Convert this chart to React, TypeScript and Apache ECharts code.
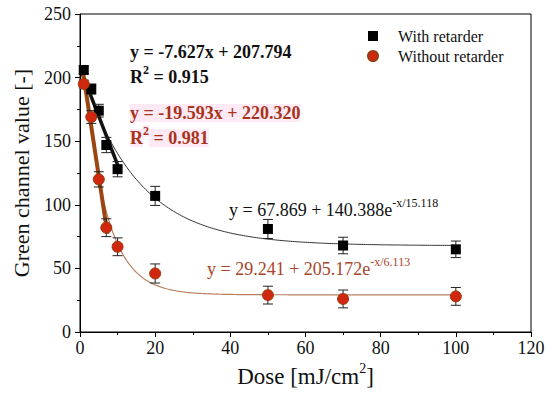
import React, { useEffect, useRef } from "react";
import * as echarts from "echarts";

const doses = [1, 3, 5, 7, 10, 20, 50, 70, 100];
const withRetarder = [206, 191, 174, 147, 128, 107, 81, 68, 65];
const withRetarderErr = [3, 4, 5, 6, 6, 7.5, 7.5, 6.5, 6.5];
const withoutRetarder = [195, 169, 120, 82, 67, 46, 29, 26, 28];
const withoutRetarderErr = [3, 5, 6, 7, 7, 7.5, 7, 7, 7];

const xTicks = { min: 0, max: 120, interval: 20 };
const yTicks = { min: 0, max: 250, interval: 50 };

// Fits as printed on the chart
const linWith = { slope: -7.627, intercept: 207.794, from: 0.5, to: 10.5 };
const linWithout = { slope: -19.593, intercept: 220.32, from: 0.8, to: 7.3 };
const expWith = { a: 67.869, b: 140.388, t: 15.118, from: 3, to: 100 };
const expWithout = { a: 29.241, b: 205.172, t: 6.113, from: 5, to: 100 };

const FONT = "Liberation Serif, Times New Roman, serif";
const RED_TEXT = "#a8321a";
const PINK = "#fdeaf5";

function expCurve(f: { a: number; b: number; t: number; from: number; to: number }) {
  const pts: number[][] = [];
  for (let x = f.from; x <= f.to + 1e-9; x += 0.5) {
    pts.push([x, f.a + f.b * Math.exp(-x / f.t)]);
  }
  return pts;
}
function linCurve(f: { slope: number; intercept: number; from: number; to: number }) {
  return [
    [f.from, f.intercept + f.slope * f.from],
    [f.to, f.intercept + f.slope * f.to],
  ];
}

function richText(color: string, bold: boolean, size: number, bg?: string) {
  const m: any = {
    fontFamily: FONT,
    fontSize: size,
    fontWeight: bold ? "bold" : "normal",
    color,
    lineHeight: 22,
    verticalAlign: "bottom",
  };
  const s: any = {
    fontFamily: FONT,
    fontSize: Math.round(size * 0.65),
    fontWeight: bold ? "bold" : "normal",
    color,
    lineHeight: 12,
    verticalAlign: "top",
  };
  if (bg) {
    m.backgroundColor = bg;
    s.backgroundColor = bg;
  }
  return { m, s };
}

function eqText(x: number, y: number, text: string, color: string, bold: boolean, size: number, bg?: string) {
  return {
    type: "text",
    x,
    y,
    z: 10,
    style: {
      text,
      rich: richText(color, bold, size, bg),
      align: "left",
      verticalAlign: "middle",
      textAlign: "left",
      textVerticalAlign: "middle",
      fill: color,
    },
  };
}

function errorSeries(name: string, vals: number[], errs: number[]) {
  return {
    type: "custom",
    name,
    z: 3,
    silent: true,
    data: doses.map((d, i) => [d, vals[i], errs[i]]),
    encode: { x: 0, y: 1 },
    renderItem: (_p: any, api: any) => {
      const x = api.value(0);
      const y = api.value(1);
      const e = api.value(2);
      const top = api.coord([x, y + e]);
      const bot = api.coord([x, y - e]);
      const w = 5;
      const st = { stroke: "#222", lineWidth: 1 };
      return {
        type: "group",
        children: [
          { type: "line", shape: { x1: top[0], y1: top[1], x2: bot[0], y2: bot[1] }, style: st },
          { type: "line", shape: { x1: top[0] - w, y1: top[1], x2: top[0] + w, y2: top[1] }, style: st },
          { type: "line", shape: { x1: bot[0] - w, y1: bot[1], x2: bot[0] + w, y2: bot[1] }, style: st },
        ],
      };
    },
  };
}

export default function App() {
  const ref = useRef<HTMLDivElement>(null);
  useEffect(() => {
    if (!ref.current) return;
    const chart = echarts.init(ref.current, null, { renderer: "svg" });
    const axisCommon = {
      axisLine: { show: true, onZero: false, lineStyle: { color: "#000", width: 1 } },
      axisTick: { show: true, inside: false, length: 5, lineStyle: { color: "#000" } },
      minorTick: { show: true, splitNumber: 2, length: 3, lineStyle: { color: "#000" } },
      splitLine: { show: false },
      minorSplitLine: { show: false },
    };
    chart.setOption({
      animation: false,
      backgroundColor: "#fff",
      textStyle: { fontFamily: FONT },
      grid: { left: 80, right: 19, top: 14, bottom: 62, show: true, borderColor: "#000", borderWidth: 1 },
      legend: {
        orient: "vertical",
        left: 367,
        top: 28,
        padding: 0,
        itemWidth: 10,
        itemHeight: 10,
        itemGap: 4,
        data: ["With retarder", "Without retarder"],
        textStyle: { fontFamily: FONT, fontSize: 16, color: "#111", lineHeight: 16, padding: [0, 0, 0, 15] },
      },
      xAxis: {
        type: "value",
        min: xTicks.min,
        max: xTicks.max,
        interval: xTicks.interval,
        ...axisCommon,
        axisLabel: { fontFamily: FONT, fontSize: 18, color: "#111", margin: 7 },
        name: "{a|Dose [mJ/cm}{s|2}{a|]}",
        nameLocation: "middle",
        nameGap: 24,
        nameTextStyle: {
          fontFamily: FONT,
          rich: {
            a: { fontFamily: FONT, fontSize: 23, color: "#111", lineHeight: 26, verticalAlign: "bottom" },
            s: { fontFamily: FONT, fontSize: 14, color: "#111", lineHeight: 14, verticalAlign: "top" },
          },
        },
      },
      yAxis: {
        type: "value",
        min: yTicks.min,
        max: yTicks.max,
        interval: yTicks.interval,
        ...axisCommon,
        axisLabel: { fontFamily: FONT, fontSize: 18, color: "#111", margin: 9 },
        name: "Green channel value [-]",
        nameLocation: "middle",
        nameGap: 48,
        nameTextStyle: { fontFamily: FONT, fontSize: 22, color: "#111" },
      },
      graphic: [
        eqText(130, 50, "{m|y = -7.627x + 207.794}", "#111", true, 18),
        eqText(130, 75, "{m|R}{s|2}{m| = 0.915}", "#111", true, 18),
        eqText(130, 111, "{m|y = -19.593x + 220.320}", RED_TEXT, true, 18, PINK),
        eqText(130, 136, "{m|R}{s|2}{m| = 0.981}", RED_TEXT, true, 18, PINK),
        eqText(229, 208, "{m|y = 67.869 + 140.388e}{s|-x/15.118}", "#111", false, 18),
        eqText(207, 267, "{m|y = 29.241 + 205.172e}{s|-x/6.113}", "#a8452a", false, 18),
      ],
      series: [
        {
          type: "line",
          name: "expWith",
          data: expCurve(expWith),
          showSymbol: false,
          z: 1,
          lineStyle: { color: "#333", width: 1 },
          silent: true,
        },
        {
          type: "line",
          name: "expWithout",
          data: expCurve(expWithout),
          showSymbol: false,
          z: 1,
          lineStyle: { color: "#b88060", width: 1.2 },
          silent: true,
        },
        {
          type: "line",
          name: "linWith",
          data: linCurve(linWith),
          showSymbol: false,
          z: 2,
          lineStyle: { color: "#111", width: 3.5 },
          silent: true,
        },
        {
          type: "line",
          name: "linWithout",
          data: linCurve(linWithout),
          showSymbol: false,
          z: 2,
          lineStyle: { color: "#9a4512", width: 4 },
          silent: true,
        },
        errorSeries("errWith", withRetarder, withRetarderErr),
        errorSeries("errWithout", withoutRetarder, withoutRetarderErr),
        {
          type: "scatter",
          name: "With retarder",
          data: doses.map((d, i) => [d, withRetarder[i]]),
          symbol: "rect",
          symbolSize: 10,
          z: 4,
          itemStyle: { color: "#000", opacity: 1 },
        },
        {
          type: "scatter",
          name: "Without retarder",
          data: doses.map((d, i) => [d, withoutRetarder[i]]),
          symbol: "circle",
          symbolSize: 11,
          z: 4,
          itemStyle: { color: "#d0280f", borderColor: "#9a3a10", borderWidth: 1, opacity: 1 },
        },
      ],
    });
    return () => chart.dispose();
  }, []);
  return (
    <div
      ref={ref}
      style={{ position: "fixed", left: 0, top: 0, width: 550, height: 394, background: "#fff" }}
    />
  );
}
